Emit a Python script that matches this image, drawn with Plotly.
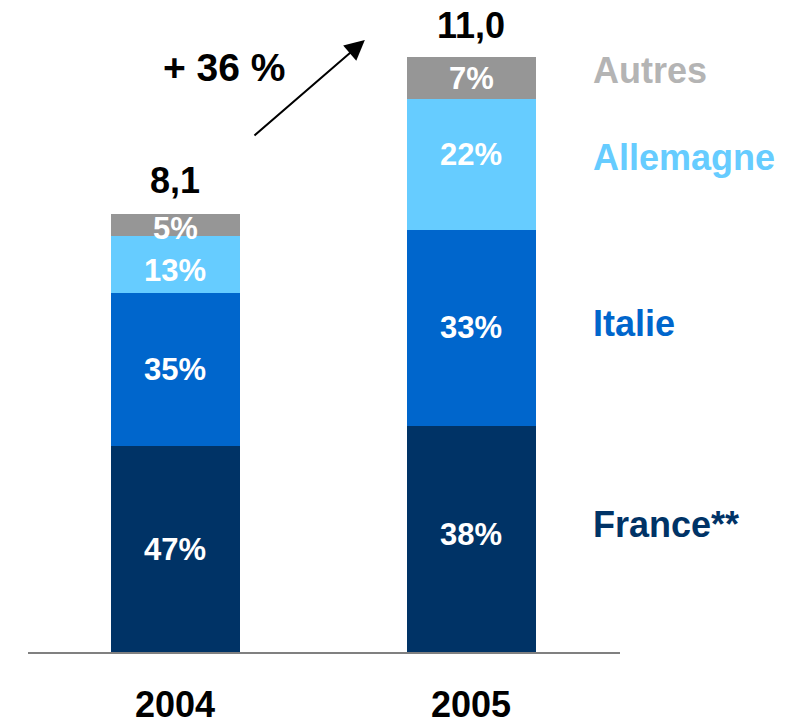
import plotly.graph_objects as go

years = ["2004", "2005"]
totals = [8.1, 11.0]
total_labels = ["8,1", "11,0"]
segments = ["France**", "Italie", "Allemagne", "Autres"]
pct = {
    "France**": [47, 38],
    "Italie": [35, 33],
    "Allemagne": [13, 22],
    "Autres": [5, 7],
}
colors = {
    "France**": "#003366",
    "Italie": "#0066CC",
    "Allemagne": "#66CCFF",
    "Autres": "#969696",
}
label_colors = {
    "France**": "#003366",
    "Italie": "#0066CC",
    "Allemagne": "#66CCFF",
    "Autres": "#B4B4B4",
}
growth_label = "+ 36 %"

FONT = "Arial, Liberation Sans, sans-serif"
xs = [0, 1]

# small vertical nudges of the in-bar labels (pixels)
seg_shift = {
    "France**": [0, 5],
    "Italie": [0, 0],
    "Allemagne": [-6, 10],
    "Autres": [-3, 0],
}

fig = go.Figure()
annotations = []
cum = [0.0, 0.0]
for s in segments:
    vals = [totals[i] * pct[s][i] / 100 for i in range(2)]
    fig.add_trace(go.Bar(x=xs, y=vals, name=s, marker=dict(color=colors[s], line=dict(width=0)),
                         width=0.436, hoverinfo="skip"))
    for i in range(2):
        mid = cum[i] + vals[i] / 2
        annotations.append(dict(x=xs[i], y=mid, xref="x", yref="y", text=f"<b>{pct[s][i]}%</b>",
                                showarrow=False, font=dict(family=FONT, size=31, color="white"),
                                xanchor="center", yanchor="middle", yshift=seg_shift[s][i]))
        cum[i] += vals[i]

# legend labels next to 2005 bar
shifts = {"France**": 15, "Italie": 4, "Allemagne": 7, "Autres": 8}
c = 0.0
for s in segments:
    v = totals[1] * pct[s][1] / 100
    annotations.append(dict(x=1.405, y=c + v / 2, xref="x", yref="y", text=f"<b>{s}</b>",
                            showarrow=False, xanchor="left", yanchor="middle", yshift=shifts[s],
                            font=dict(family=FONT, size=36, color=label_colors[s])))
    c += v

# totals and years
for i in range(2):
    annotations.append(dict(x=xs[i], y=totals[i], xref="x", yref="y", text=f"<b>{total_labels[i]}</b>",
                            showarrow=False, xanchor="center", yanchor="middle", yshift=34 if i == 0 else 32,
                            font=dict(family=FONT, size=36, color="black")))
    annotations.append(dict(x=xs[i], y=0, xref="x", yref="y", text=f"<b>{years[i]}</b>",
                            showarrow=False, xanchor="center", yanchor="middle", yshift=-52,
                            font=dict(family=FONT, size=36, color="black")))

# growth arrow
annotations.append(dict(x=0.640, y=11.32, ax=0.262, ay=9.53, xref="x", yref="y", axref="x", ayref="y",
                        text="", showarrow=True, arrowhead=2, arrowsize=2, arrowwidth=2, arrowcolor="black"))
annotations.append(dict(x=0.167, y=10.82, xref="x", yref="y", text=f"<b>{growth_label}</b>",
                        showarrow=False, xanchor="center", yanchor="middle",
                        font=dict(family=FONT, size=39, color="black")))

fig.update_layout(
    barmode="stack",
    width=789, height=722,
    margin=dict(l=20, r=177, t=12, b=78),
    paper_bgcolor="white", plot_bgcolor="white",
    showlegend=False,
    annotations=annotations,
    xaxis=dict(range=[-0.498, 1.502], showline=True, linecolor="#808080", linewidth=2,
               showticklabels=False, showgrid=False, zeroline=False, ticks=""),
    yaxis=dict(range=[0, 11.69], visible=False, showgrid=False, zeroline=False),
)

fig.write_html("out.html")
